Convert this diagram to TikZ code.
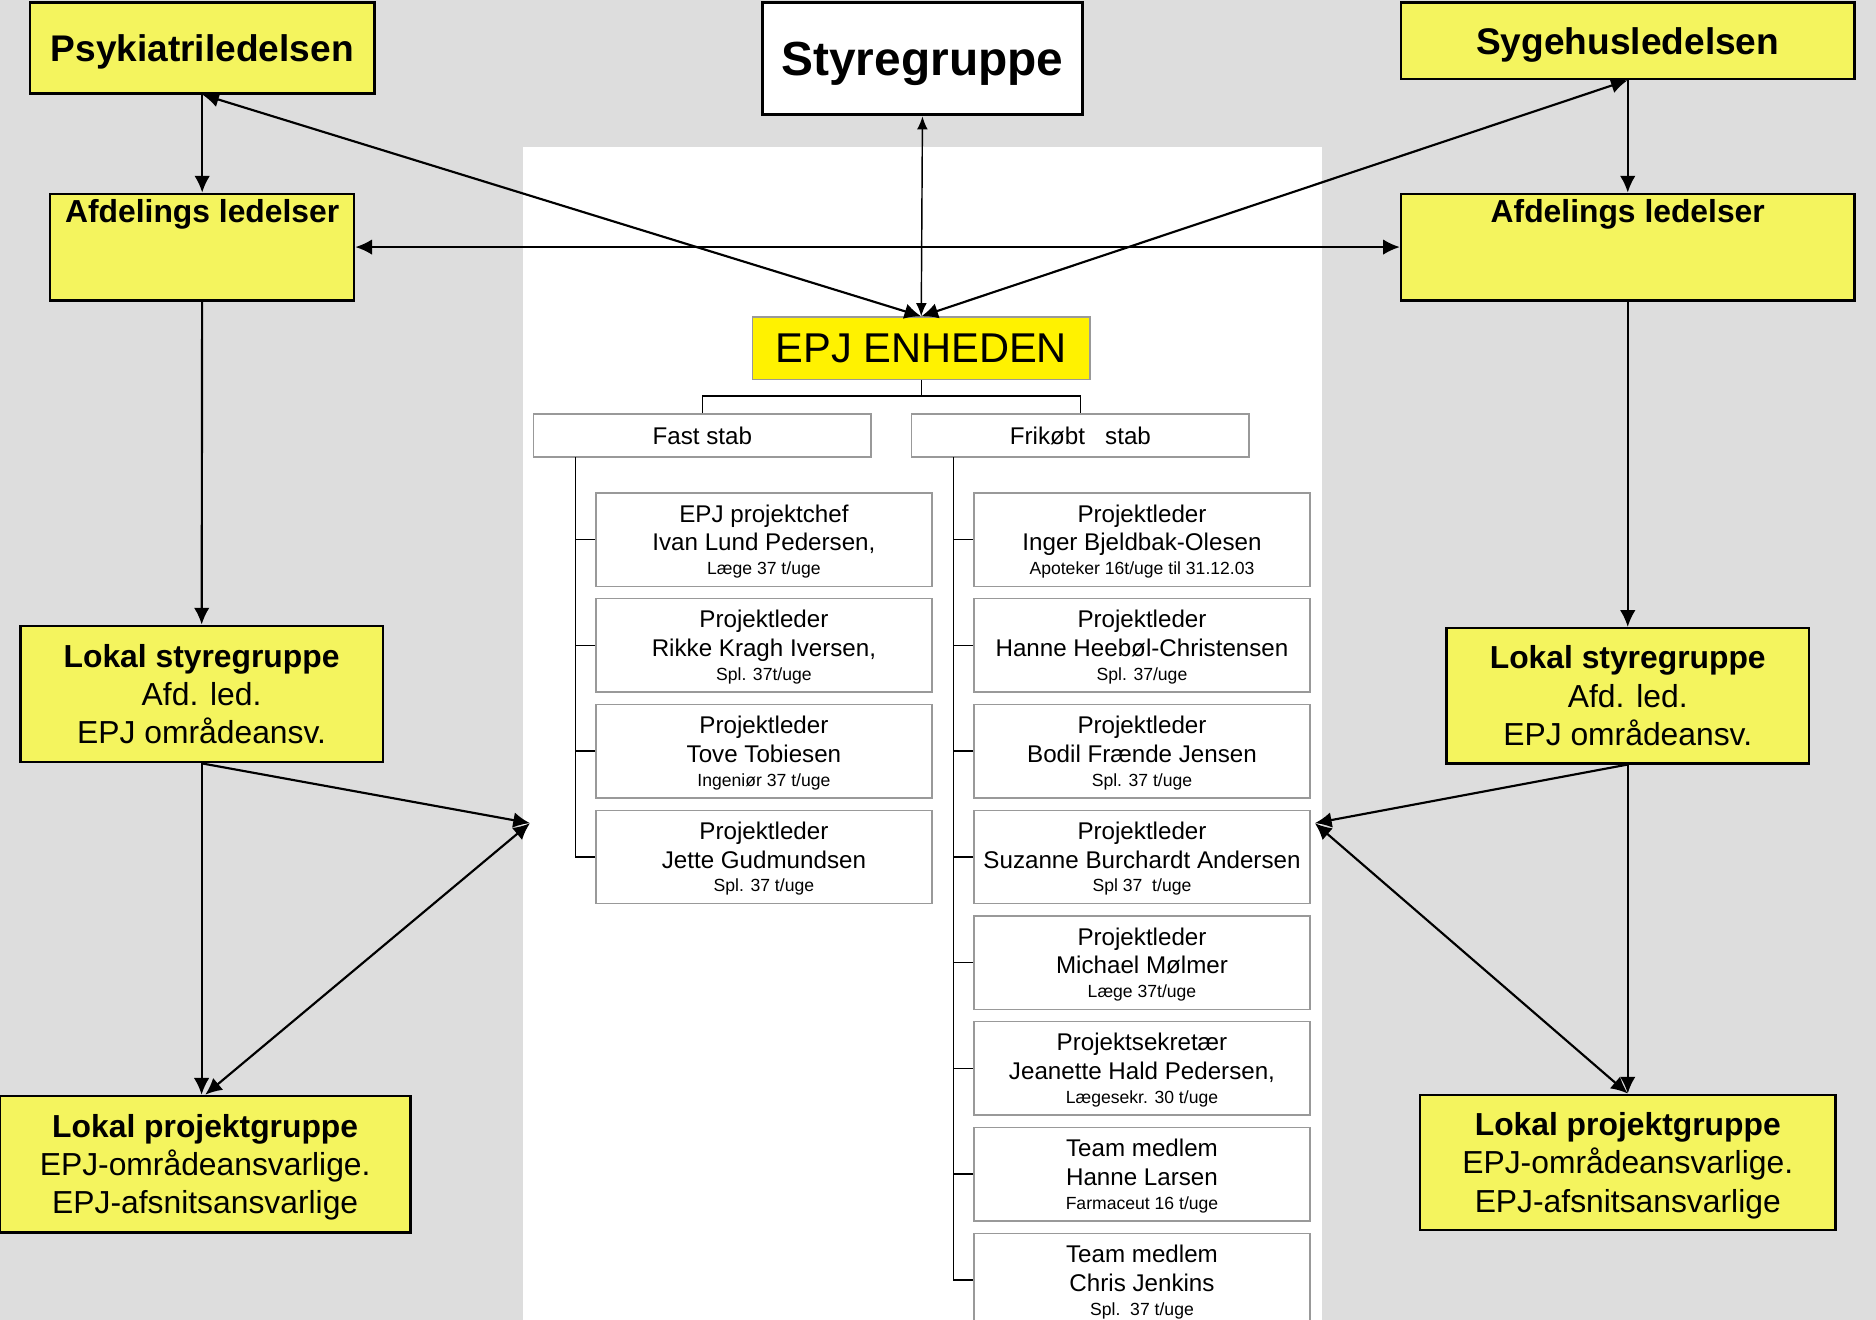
\documentclass[tikz,border=0pt]{standalone}
\usepackage{fontspec}
\setmainfont{Liberation Sans}
\usetikzlibrary{positioning, arrows.meta}
\definecolor{ledgelb}{RGB}{244,244,94}
\definecolor{bggray}{RGB}{221,221,221}
\tikzset{>={Latex[length=7pt,width=6.5pt]},
         node distance=4.6pt,
         leadbox/.style={draw, line width=1pt, fill=ledgelb, inner sep=0pt, align=center, text depth=0pt,
                         font=\bfseries\fontsize{15.5}{18}\selectfont},
         localbox/.style={draw, line width=1pt, fill=ledgelb, inner sep=0pt, align=center, text depth=0pt,
                          font=\fontsize{13.3}{16}\selectfont},
         stabbox/.style={draw=gray!80, line width=0.6pt, fill=white, minimum width=141pt,
                         minimum height=18pt, inner sep=0pt, font=\fontsize{10.1}{12}\selectfont},
         staffbox/.style={draw=gray!80, line width=0.6pt, fill=white, minimum width=140.5pt,
                          minimum height=39pt, inner sep=0pt, align=center, text depth=0pt,
                          font=\fontsize{10.1}{12}\selectfont},
         linkarrow/.style={<->, line width=0.9pt},
         feedarrow/.style={->, line width=0.9pt},
         orgline/.style={line width=0.6pt},
         }
\newcommand{\staffnote}[1]{{\fontsize{7.35}{9}\selectfont #1}}

\begin{document}
\begin{tikzpicture}[x=0.5pt, y=-0.5pt]
    \clip (0,0) rectangle (1568,1103);
    \fill[bggray] (0,0) rectangle (1568,1103);
    \fill[white] (437,123) rectangle (1105,1103);

    % ledelse
    \node[leadbox, minimum width=144pt, minimum height=38pt] (psyk) at (169,40) {Psykiatriledelsen};
    \node[draw, line width=1.2pt, fill=white, minimum width=134pt, minimum height=47pt, inner sep=0pt,
          text depth=0pt, font=\bfseries\fontsize{20}{24}\selectfont] (styre) at (771,49) {Styregruppe};
    \node[leadbox, minimum width=189.5pt, minimum height=32pt] (syge) at (1360.5,34) {Sygehusledelsen};

    \node[leadbox, minimum width=127pt, minimum height=44.5pt] (afdL) at (169,206.5) {};
    \node[below=2.5pt of afdL.north, inner sep=0pt, font=\bfseries\fontsize{13.3}{16}\selectfont] (afdLtxt) {Afdelings ledelser};
    \node[leadbox, minimum width=189.5pt, minimum height=44.5pt] (afdR) at (1360.5,206.5) {};
    \node[below=2.5pt of afdR.north, inner sep=0pt, font=\bfseries\fontsize{13.3}{16}\selectfont] (afdRtxt) {Afdelings ledelser};

    \node[localbox, minimum width=151.5pt, minimum height=57pt] (styreL) at (168.5,580)
        {\textbf{Lokal styregruppe}\\Afd. led.\\EPJ områdeansv.};
    \node[localbox, minimum width=151.5pt, minimum height=56.5pt] (styreR) at (1360.5,581.5)
        {\textbf{Lokal styregruppe}\\Afd. led.\\EPJ områdeansv.};
    \node[localbox, minimum width=171.5pt, minimum height=57pt] (projL) at (171.5,973)
        {\textbf{Lokal projektgruppe}\\EPJ-områdeansvarlige.\\EPJ-afsnitsansvarlige};
    \node[localbox, minimum width=173.5pt, minimum height=56.5pt] (projR) at (1360.5,971.5)
        {\textbf{Lokal projektgruppe}\\EPJ-områdeansvarlige.\\EPJ-afsnitsansvarlige};

    % EPJ enheden
    \node[draw=gray!80, line width=0.6pt, fill=yellow, minimum width=141pt, minimum height=26pt,
          inner sep=0pt, font=\fontsize{17.4}{20}\selectfont] (epj) at (770,291) {EPJ ENHEDEN};
    \node[stabbox] (fast) at (587,364) {Fast stab};
    \node[stabbox] (frik) at (903,364) {Frikøbt\ \ \ stab};

    \node[staffbox] (f1) at (638.5,451) {EPJ projektchef\\Ivan Lund Pedersen,\\[-2pt]\staffnote{Læge 37 t/uge}};
    \node[staffbox, below=of f1] (f2) {Projektleder\\Rikke Kragh Iversen,\\[-2pt]\staffnote{Spl. 37t/uge}};
    \node[staffbox, below=of f2] (f3) {Projektleder\\Tove Tobiesen\\[-2pt]\staffnote{Ingeniør 37 t/uge}};
    \node[staffbox, below=of f3] (f4) {Projektleder\\Jette Gudmundsen\\[-2pt]\staffnote{Spl. 37 t/uge}};

    \node[staffbox] (r1) at (954.5,451) {Projektleder\\Inger Bjeldbak-Olesen\\[-2pt]\staffnote{Apoteker 16t/uge til 31.12.03}};
    \node[staffbox, below=of r1] (r2) {Projektleder\\Hanne Heebøl-Christensen\\[-2pt]\staffnote{Spl. 37/uge}};
    \node[staffbox, below=of r2] (r3) {Projektleder\\Bodil Frænde Jensen\\[-2pt]\staffnote{Spl. 37 t/uge}};
    \node[staffbox, below=of r3] (r4) {Projektleder\\Suzanne Burchardt Andersen\\[-2pt]\staffnote{Spl 37\ \ t/uge}};
    \node[staffbox, below=of r4] (r5) {Projektleder\\Michael Mølmer\\[-2pt]\staffnote{Læge 37t/uge}};
    \node[staffbox, below=of r5] (r6) {Projektsekretær\\Jeanette Hald Pedersen,\\[-2pt]\staffnote{Lægesekr. 30 t/uge}};
    \node[staffbox, below=of r6] (r7) {Team medlem\\Hanne Larsen\\[-2pt]\staffnote{Farmaceut 16 t/uge}};
    \node[staffbox, below=of r7] (r8) {Team medlem\\Chris Jenkins\\[-2pt]\staffnote{Spl.\ \ 37 t/uge}};

    % organisationslinjer
    \coordinate (split) at (770,331);
    \coordinate (fastbus) at (481,382);
    \coordinate (frikbus) at (797,382);
    \draw[orgline] (epj) -- (split);
    \draw[orgline] (fast.north) |- (split) -| (frik.north);
    \draw[orgline] (fastbus) |- (f4.west);
    \foreach \n in {f1,f2,f3}
        \draw[orgline] (\n.west) -- (\n.west -| fastbus);
    \draw[orgline] (frikbus) |- (r8.west);
    \foreach \n in {r1,r2,r3,r4,r5,r6,r7}
        \draw[orgline] (\n.west) -- (\n.west -| frikbus);

    % pile
    \coordinate (jL) at (443,688);
    \coordinate (jR) at (1099,688);
    \draw[feedarrow] (psyk) -- (afdL);
    \draw[linkarrow] (psyk.south) -- (epj.north);
    \draw[<->, line width=0.6pt, >={Latex[length=5.5pt,width=4.5pt]}] (styre.south) -- (epj.north);
    \draw[linkarrow] (syge.south) -- (epj.north);
    \draw[feedarrow] (syge) -- (afdR);
    \draw[linkarrow] (afdL) -- (afdR);
    \draw[feedarrow] (afdL) -- (styreL);
    \draw[feedarrow] (afdR) -- (styreR);
    \draw[feedarrow] (styreL.south) -- (styreL.south |- projL.north);
    \draw[feedarrow] (styreL.south) -- (jL);
    \draw[linkarrow] (jL) -- (projL.north);
    \draw[feedarrow] (styreR.south) -- (styreR.south |- projR.north);
    \draw[feedarrow] (styreR.south) -- (jR);
    \draw[linkarrow] (jR) -- (projR.north);
\end{tikzpicture}
\end{document}
